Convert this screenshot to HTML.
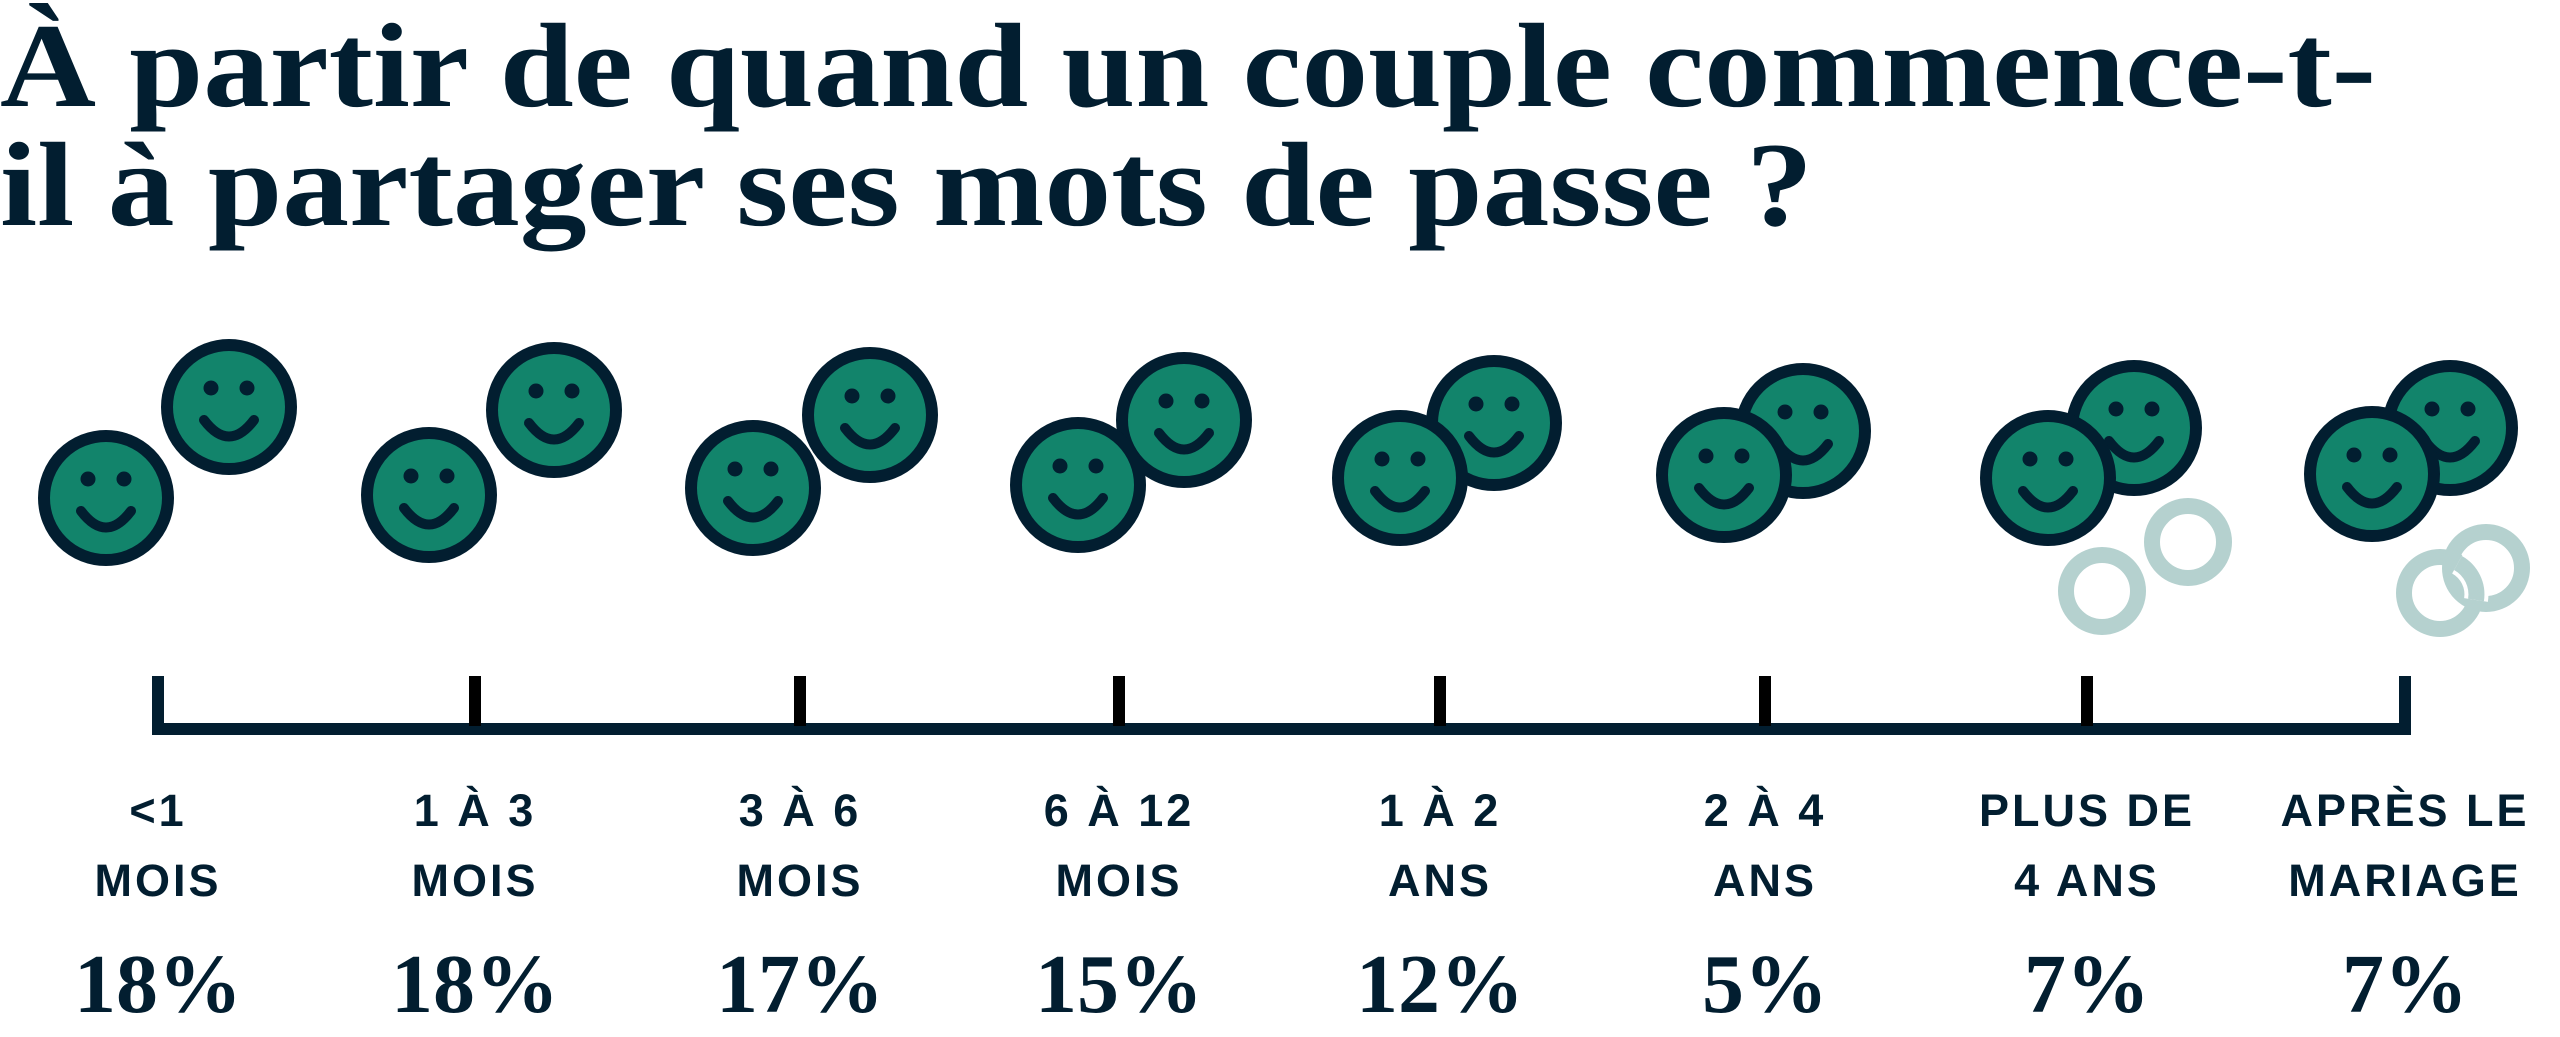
<!DOCTYPE html>
<html><head><meta charset="utf-8"><style>
html,body{margin:0;padding:0;background:#fff;}
svg{display:block;}
.t{font-family:"Liberation Serif",serif;font-weight:bold;fill:#021e30;}
.l{font-family:"Liberation Sans",sans-serif;font-weight:bold;fill:#021e30;font-size:45px;letter-spacing:3px;text-anchor:middle;}
.p{font-family:"Liberation Serif",serif;font-weight:bold;fill:#021e30;font-size:84px;text-anchor:middle;}
</style></head><body>
<svg width="2560" height="1037" viewBox="0 0 2560 1037" xmlns="http://www.w3.org/2000/svg">
<defs>
<g id="f">
<circle r="62" fill="#12846b" stroke="#021e30" stroke-width="12"/>
<circle cx="-18" cy="-19" r="7.5" fill="#021e30"/>
<circle cx="18" cy="-19" r="7.5" fill="#021e30"/>
<path d="M -25 13 Q 0 46 25 13" fill="none" stroke="#021e30" stroke-width="10" stroke-linecap="round"/>
</g>
</defs>
<text class="t" x="0" y="106" font-size="120" textLength="2376" lengthAdjust="spacingAndGlyphs">À partir de quand un couple commence-t-</text>
<text class="t" x="0" y="225" font-size="120" textLength="1813" lengthAdjust="spacingAndGlyphs">il à partager ses mots de passe ?</text>

<use href="#f" x="229" y="407"/><use href="#f" x="106" y="498"/>
<use href="#f" x="554" y="410"/><use href="#f" x="429" y="495"/>
<use href="#f" x="870" y="415"/><use href="#f" x="753" y="488"/>
<use href="#f" x="1184" y="420"/><use href="#f" x="1078" y="485"/>
<use href="#f" x="1494" y="423"/><use href="#f" x="1400" y="478"/>
<use href="#f" x="1803" y="431"/><use href="#f" x="1724" y="475"/>
<use href="#f" x="2134" y="428"/><use href="#f" x="2048" y="478"/>
<use href="#f" x="2450" y="428"/><use href="#f" x="2372" y="474"/>

<circle cx="2102" cy="591" r="36" fill="none" stroke="#b5d1cf" stroke-width="16"/>
<circle cx="2188" cy="542" r="36" fill="none" stroke="#b5d1cf" stroke-width="16"/>
<circle cx="2440" cy="593" r="36" fill="none" stroke="#b5d1cf" stroke-width="16"/>
<circle cx="2486" cy="568" r="36" fill="none" stroke="#b5d1cf" stroke-width="16"/>
<path d="M 2476 600 A 36 36 0 0 0 2458 563" fill="none" stroke="#fff" stroke-width="24"/>
<path d="M 2476 600 A 36 36 0 0 0 2458 563" fill="none" stroke="#b5d1cf" stroke-width="16"/>

<g fill="#021e30">
<rect x="152" y="723" width="2259" height="12"/>
<rect x="152" y="676" width="12" height="59"/>
<rect x="2399" y="676" width="12" height="59"/>
</g>
<g fill="#000">
<rect x="469" y="676" width="12" height="50"/>
<rect x="794" y="676" width="12" height="50"/>
<rect x="1113" y="676" width="12" height="50"/>
<rect x="1434" y="676" width="12" height="50"/>
<rect x="1759" y="676" width="12" height="50"/>
<rect x="2081" y="676" width="12" height="50"/>
</g>

<text class="l" x="158" y="826">&lt;1</text><text class="l" x="158" y="896">MOIS</text>
<text class="l" x="475" y="826">1 À 3</text><text class="l" x="475" y="896">MOIS</text>
<text class="l" x="800" y="826">3 À 6</text><text class="l" x="800" y="896">MOIS</text>
<text class="l" x="1119" y="826">6 À 12</text><text class="l" x="1119" y="896">MOIS</text>
<text class="l" x="1440" y="826">1 À 2</text><text class="l" x="1440" y="896">ANS</text>
<text class="l" x="1765" y="826">2 À 4</text><text class="l" x="1765" y="896">ANS</text>
<text class="l" x="2087" y="826">PLUS DE</text><text class="l" x="2087" y="896">4 ANS</text>
<text class="l" x="2405" y="826">APRÈS LE</text><text class="l" x="2405" y="896">MARIAGE</text>

<text class="p" x="158" y="1012">18%</text>
<text class="p" x="475" y="1012">18%</text>
<text class="p" x="800" y="1012">17%</text>
<text class="p" x="1119" y="1012">15%</text>
<text class="p" x="1440" y="1012">12%</text>
<text class="p" x="1765" y="1012">5%</text>
<text class="p" x="2087" y="1012">7%</text>
<text class="p" x="2405" y="1012">7%</text>
</svg>
</body></html>
